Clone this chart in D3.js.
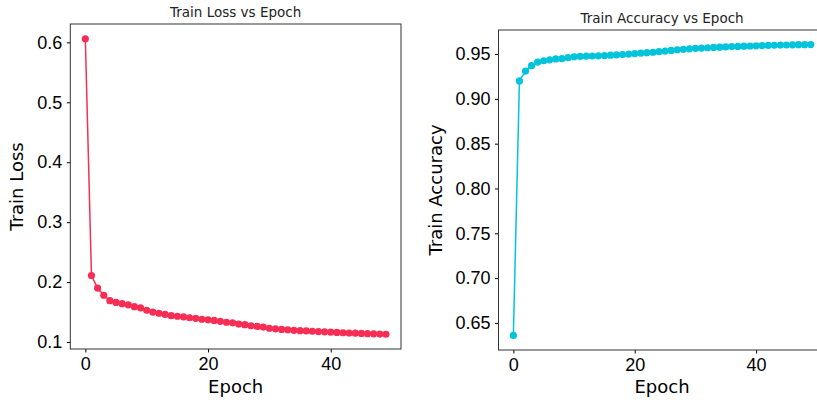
<!DOCTYPE html>
<html>
<head>
<meta charset="utf-8">
<script src="https://cdn.jsdelivr.net/npm/d3@7"></script>
<style>
  body { margin: 0; background: #fff; }
  svg { display: block; font-family: "DejaVu Sans", sans-serif; }
  .tick text { font-size: 18px; fill: #000; }
  .tick line { stroke: #000; }
</style>
</head>
<body>
<svg id="chart" width="817" height="403"></svg>
<script>
// Epoch numbers
var epochs = d3.range(0, 50);

// Train loss per epoch
var trainLoss = [
  0.606, 0.211, 0.190, 0.178, 0.169, 0.166, 0.164, 0.162, 0.159, 0.157,
  0.153, 0.150, 0.148, 0.146, 0.144, 0.143, 0.142, 0.1405, 0.1395, 0.138,
  0.137, 0.136, 0.1345, 0.133, 0.132, 0.130, 0.129, 0.127, 0.126, 0.125,
  0.123, 0.122, 0.121, 0.1205, 0.1195, 0.119, 0.1185, 0.118, 0.1175, 0.117,
  0.1165, 0.116, 0.1155, 0.115, 0.1147, 0.1143, 0.114, 0.1137, 0.1133, 0.113
];

// Train accuracy per epoch
var trainAcc = [
  0.636, 0.920, 0.931, 0.937, 0.941, 0.9425, 0.9435, 0.9445, 0.945, 0.946,
  0.947, 0.9473, 0.9476, 0.9478, 0.948, 0.9483, 0.9487, 0.949, 0.9495, 0.950,
  0.9505, 0.951, 0.9515, 0.952, 0.9527, 0.9533, 0.954, 0.9547, 0.9553, 0.9558,
  0.9563, 0.9567, 0.957, 0.9574, 0.9577, 0.958, 0.9583, 0.9585, 0.9588, 0.959,
  0.9592, 0.9594, 0.9596, 0.9598, 0.960, 0.9601, 0.9603, 0.9604, 0.9605, 0.9606
];

// Tick values
var xTicks = [0, 20, 40];
var lossTicks = [0.1, 0.2, 0.3, 0.4, 0.5, 0.6];
var accTicks = [0.65, 0.70, 0.75, 0.80, 0.85, 0.90, 0.95];

var svg = d3.select("#chart");

// Domain with 5% padding, like matplotlib
function padded(vals) {
    var ext = d3.extent(vals);
    var p = (ext[1] - ext[0]) * 0.05;
    return [ext[0] - p, ext[1] + p];
}

function drawPanel(opt) {
    var g = svg.append("g");

    var x = d3.scaleLinear().domain(padded(epochs)).range([opt.left, opt.right]);
    var y = d3.scaleLinear().domain(padded(opt.values)).range([opt.bottom, opt.top]);

    // x axis
    g.append("g")
        .attr("transform", "translate(0," + opt.bottom + ")")
        .call(d3.axisBottom(x).tickValues(xTicks).tickFormat(d3.format("d"))
            .tickSize(3.5).tickPadding(4.5))
        .call(function(a) { a.select(".domain").remove(); });

    // y axis
    g.append("g")
        .attr("transform", "translate(" + opt.left + ",0)")
        .call(d3.axisLeft(y).tickValues(opt.ticks).tickFormat(d3.format(opt.fmt))
            .tickSize(3.5).tickPadding(4.5))
        .call(function(a) { a.select(".domain").remove(); });

    // Frame
    g.append("rect")
        .attr("x", opt.left)
        .attr("y", opt.top)
        .attr("width", opt.right - opt.left)
        .attr("height", opt.bottom - opt.top)
        .attr("fill", "none")
        .attr("stroke", "#333")
        .attr("stroke-width", 1);

    // Line
    var line = d3.line()
        .x(function(d, i) { return x(epochs[i]); })
        .y(function(d) { return y(d); });

    g.append("path")
        .datum(opt.values)
        .attr("d", line)
        .attr("fill", "none")
        .attr("stroke", opt.color)
        .attr("stroke-width", 1.5);

    // Points
    g.selectAll("circle")
        .data(opt.values)
        .enter()
        .append("circle")
        .attr("cx", function(d, i) { return x(epochs[i]); })
        .attr("cy", function(d) { return y(d); })
        .attr("r", 3.6)
        .attr("fill", opt.color);

    var cx = (opt.left + opt.right) / 2;

    // Title
    g.append("text")
        .attr("x", cx)
        .attr("y", opt.top - 7.5)
        .attr("text-anchor", "middle")
        .attr("font-size", "13.5px")
        .attr("fill", "#222")
        .text(opt.title);

    // x label
    g.append("text")
        .attr("x", cx)
        .attr("y", 393)
        .attr("text-anchor", "middle")
        .attr("font-size", "18px")
        .text("Epoch");

    // y label
    g.append("text")
        .attr("transform", "translate(" + opt.ylabelX + "," + ((opt.top + opt.bottom) / 2) + ") rotate(-90)")
        .attr("text-anchor", "middle")
        .attr("font-size", "18px")
        .text(opt.ylabel);
}

drawPanel({
    values: trainLoss, ticks: lossTicks, fmt: ".1f",
    left: 70.3, right: 401, top: 24, bottom: 349,
    color: "#f72d55", title: "Train Loss vs Epoch",
    ylabel: "Train Loss", ylabelX: 23
});

drawPanel({
    values: trainAcc, ticks: accTicks, fmt: ".2f",
    left: 498.5, right: 825.6, top: 30, bottom: 350,
    color: "#00c4dc", title: "Train Accuracy vs Epoch",
    ylabel: "Train Accuracy", ylabelX: 442
});
</script>
</body>
</html>
